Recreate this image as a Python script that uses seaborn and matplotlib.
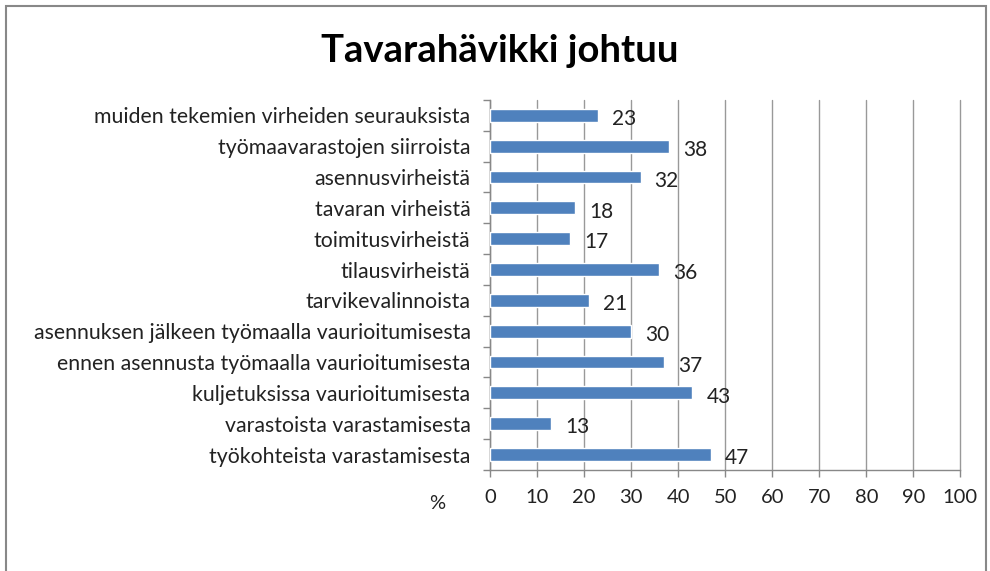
import numpy as np
import pandas as pd
import seaborn as sns
import matplotlib.pyplot as plt
from matplotlib.patches import Rectangle

categories = [
    "muiden tekemien virheiden seurauksista",
    "työmaavarastojen siirroista",
    "asennusvirheistä",
    "tavaran virheistä",
    "toimitusvirheistä",
    "tilausvirheistä",
    "tarvikevalinnoista",
    "asennuksen jälkeen työmaalla vaurioitumisesta",
    "ennen asennusta työmaalla vaurioitumisesta",
    "kuljetuksissa vaurioitumisesta",
    "varastoista varastamisesta",
    "työkohteista varastamisesta",
]
values = [23, 38, 32, 18, 17, 36, 21, 30, 37, 43, 13, 47]
x_ticks = [0, 10, 20, 30, 40, 50, 60, 70, 80, 90, 100]

df = pd.DataFrame({"syy": categories, "osuus": values})

sns.set_style("white")
plt.rcParams["font.family"] = ["Lato", "DejaVu Sans"]

fig = plt.figure(figsize=(9.9, 5.71), dpi=100)
ax = fig.add_axes([0.495, 0.177, 0.475, 0.648])

sns.barplot(data=df, y="syy", x="osuus", color="#4F81BD", width=0.42,
            saturation=1, ax=ax, zorder=3)

ax.set_xlim(0, 100)
ax.set_ylim(len(categories) - 0.5, -0.5)
ax.set_xticks(x_ticks)
ax.set_xticklabels([str(t) for t in x_ticks], fontsize=14.5, color="#222222")
ax.tick_params(axis="y", labelsize=15.3, length=0, pad=14, colors="#222222")
ax.tick_params(axis="x", length=5, width=1, color="#888888", direction="out",
               bottom=True, pad=9)
ax.set_xlabel("")
ax.set_ylabel("")

# minor y ticks between categories, like Excel
ax.set_yticks(np.arange(-0.5, len(categories), 1), minor=True)
ax.tick_params(axis="y", which="minor", length=5, width=1, color="#888888",
               left=True)

ax.grid(axis="x", color="#999999", linewidth=1, zorder=0)
ax.grid(axis="y", visible=False)
for gl in ax.get_xgridlines():
    gl.set_clip_on(False)
for side in ["top", "right"]:
    ax.spines[side].set_visible(False)
for side in ["left", "bottom"]:
    ax.spines[side].set_color("#888888")
    ax.spines[side].set_linewidth(1)

for i, v in enumerate(values):
    ax.text(v + 3.0, i + 0.12, str(v), va="center", ha="left",
            fontsize=15, color="#222222")

fig.text(0.442, 0.118, "%", ha="center", va="center", fontsize=14.5,
         color="#222222")
fig.text(0.505, 0.91, "Tavarahävikki johtuu", ha="center", va="center",
         fontsize=27.5, fontweight="bold", color="black")

fig.patches.append(Rectangle((0.006, -0.01), 0.99, 1.0, transform=fig.transFigure,
                             fill=False, edgecolor="#888888", linewidth=1.5))

fig.savefig("out.png", dpi=100)
